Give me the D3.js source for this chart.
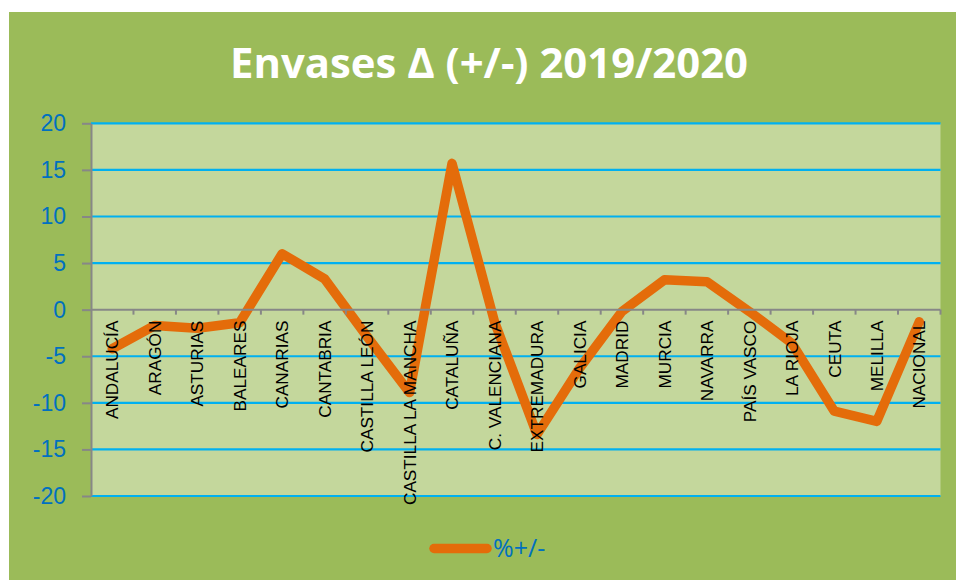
<!DOCTYPE html>
<html>
<head>
<meta charset="utf-8">
<script src="https://cdn.jsdelivr.net/npm/d3@7"></script>
<style>
  html, body { margin: 0; padding: 0; background: #fff; }
  svg { display: block; }
</style>
</head>
<body>
<div id="chart"></div>
<script>
// regions
const regions = [
  "ANDALUCÍA", "ARAGÓN", "ASTURIAS", "BALEARES", "CANARIAS", "CANTABRIA",
  "CASTILLA LEÓN", "CASTILLA LA MANCHA", "CATALUÑA", "C. VALENCIANA",
  "EXTREMADURA", "GALICIA", "MADRID", "MURCIA", "NAVARRA", "PAÍS VASCO",
  "LA RIOJA", "CEUTA", "MELILLA", "NACIONAL"
];
const pctChange = [
  -4.2, -1.7, -2.0, -1.4, 6.0, 3.3,
  -2.9, -8.9, 15.7, -1.3,
  -13.4, -6.3, -0.2, 3.2, 3.0, -0.2,
  -3.6, -10.9, -12.0, -1.3
];
const yTicks = [-20, -15, -10, -5, 0, 5, 10, 15, 20];
const seriesName = "%+/-";
const title = "Envases \u0394 (+/-) 2019/2020";

const W = 956, H = 580;
const plot = { left: 91, right: 940.5, top: 123.3, bottom: 496 };

const svg = d3.select("#chart").append("svg")
  .attr("width", W).attr("height", H);

// outer chart area
svg.append("rect")
  .attr("x", 9).attr("y", 12)
  .attr("width", W - 9).attr("height", H - 12)
  .attr("fill", "#9BBB59");

svg.append("rect")
  .attr("x", plot.left).attr("y", plot.top)
  .attr("width", plot.right - plot.left).attr("height", plot.bottom - plot.top)
  .attr("fill", "#C4D79C");

const x = d3.scaleBand().domain(regions).range([plot.left, plot.right]);
const y = d3.scaleLinear().domain([-20, 20]).range([plot.bottom, plot.top]);

// title
svg.append("text")
  .attr("x", 489).attr("y", 78)
  .attr("text-anchor", "middle")
  .attr("fill", "#fff")
  .attr("textLength", 518).attr("lengthAdjust", "spacingAndGlyphs")
  .style("font-family", "'Open Sans', sans-serif")
  .style("font-weight", "bold")
  .style("font-size", "41px")
  .text(title);

// horizontal gridlines (zero gets the category axis instead)
svg.append("g").selectAll("line")
  .data(yTicks.filter(d => d !== 0))
  .join("line")
    .attr("x1", plot.left).attr("x2", plot.right)
    .attr("y1", d => y(d)).attr("y2", d => y(d))
    .attr("stroke", "#00B0F0")
    .attr("stroke-width", 2.2);

// y axis
const yAxis = svg.append("g")
  .attr("transform", `translate(${plot.left},0)`)
  .call(d3.axisLeft(y).tickValues(yTicks).tickFormat(d => String(d))
    .tickSize(9).tickSizeOuter(0).tickPadding(16));
yAxis.select(".domain").attr("stroke", "#878787").attr("stroke-width", 2);
yAxis.selectAll(".tick line").attr("stroke", "#878787").attr("stroke-width", 2);
yAxis.selectAll(".tick text")
  .attr("fill", "#0070C0")
  .style("font-family", "'Liberation Sans', Arial, sans-serif")
  .style("font-size", "23px");

// the series line
const line = d3.line()
  .x((d, i) => x(regions[i]) + x.bandwidth() / 2)
  .y(d => y(d));

svg.append("path")
  .datum(pctChange)
  .attr("d", line)
  .attr("fill", "none")
  .attr("stroke", "#E46C0A")
  .attr("stroke-width", 9.5)
  .attr("stroke-linejoin", "round")
  .attr("stroke-linecap", "round");

// category axis on the zero line
const y0 = y(0);
const xAxis = svg.append("g");
xAxis.append("line")
  .attr("x1", plot.left).attr("x2", plot.right)
  .attr("y1", y0).attr("y2", y0)
  .attr("stroke", "#878787").attr("stroke-width", 2);
const edges = regions.map(r => x(r)).concat([plot.right]);
xAxis.selectAll(".xtick").data(edges.slice(1))
  .join("line")
    .attr("class", "xtick")
    .attr("x1", d => d).attr("x2", d => d)
    .attr("y1", y0).attr("y2", y0 + 5)
    .attr("stroke", "#878787").attr("stroke-width", 2);
xAxis.selectAll(".xlabel").data(regions)
  .join("text")
    .attr("class", "xlabel")
    .attr("transform", d => `translate(${x(d) + x.bandwidth() / 2},${y0 + 11}) rotate(-90)`)
    .attr("text-anchor", "end")
    .attr("dy", "0.36em")
    .attr("fill", "#000")
    .style("font-family", "'Liberation Sans', Arial, sans-serif")
    .style("font-size", "17.2px")
    .text(d => d);

// legend
const legend = svg.append("g").attr("transform", "translate(0,548.5)");
legend.append("line")
  .attr("x1", 434).attr("x2", 487)
  .attr("stroke", "#E46C0A").attr("stroke-width", 9.5)
  .attr("stroke-linecap", "round");
legend.append("text")
  .attr("x", 493).attr("dy", "0.35em")
  .attr("fill", "#0070C0")
  .style("font-family", "'Open Sans', sans-serif")
  .style("font-size", "25px")
  .text(seriesName);
</script>
</body>
</html>
